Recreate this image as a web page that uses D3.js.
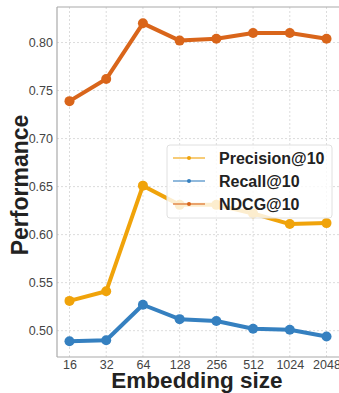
<!DOCTYPE html>
<html lang="en">
<head>
    <meta charset="UTF-8">
    <title>Embedding size</title>
    <script src="https://d3js.org/d3.v7.min.js"></script>
    <style>
        body { margin: 0; background: #fff; }
        text { font-family: "Liberation Sans", Arial, sans-serif; }
    </style>
</head>
<body>
    <svg width="339" height="393" id="mainsvg"></svg>
    <script>
        // data
        const sizes = ['16', '32', '64', '128', '256', '512', '1024', '2048'];
        const precision = [0.531, 0.541, 0.651, 0.631, 0.631, 0.622, 0.611, 0.612];
        const recall = [0.489, 0.490, 0.527, 0.512, 0.510, 0.502, 0.501, 0.494];
        const ndcg = [0.739, 0.762, 0.820, 0.802, 0.804, 0.810, 0.810, 0.804];
        const yTicks = [0.50, 0.55, 0.60, 0.65, 0.70, 0.75, 0.80];

        const series = [
            { name: 'Precision@10', values: precision, color: '#f0a30a' },
            { name: 'Recall@10', values: recall, color: '#3580c0' },
            { name: 'NDCG@10', values: ndcg, color: '#d9651a' }
        ];

        const svg = d3.select('#mainsvg');
        const margin = { top: 7, right: 0, bottom: 36, left: 57 };
        const width = +svg.attr('width');
        const height = +svg.attr('height');
        const innerWidth = width - margin.left - margin.right;
        const innerHeight = height - margin.top - margin.bottom;

        const xScale = d3.scalePoint()
            .domain(sizes)
            .range([0, innerWidth])
            .padding(0.34);

        const yScale = d3.scaleLinear()
            .domain([0.4726, 0.837])
            .range([innerHeight, 0]);

        const g = svg.append('g')
            .attr('transform', `translate(${margin.left},${margin.top})`);

        // grid
        g.append('g').selectAll('line')
            .data(yTicks)
            .join('line')
            .attr('x1', 0).attr('x2', innerWidth)
            .attr('y1', d => yScale(d)).attr('y2', d => yScale(d))
            .attr('stroke', '#dcdcdc').attr('stroke-dasharray', '2,2');
        g.append('g').selectAll('line')
            .data(sizes)
            .join('line')
            .attr('y1', 0).attr('y2', innerHeight)
            .attr('x1', d => xScale(d)).attr('x2', d => xScale(d))
            .attr('stroke', '#dcdcdc').attr('stroke-dasharray', '2,2');

        // axes
        const yAxis = d3.axisLeft(yScale).tickValues(yTicks).tickFormat(d3.format('.2f')).tickSize(0).tickPadding(4);
        const xAxis = d3.axisBottom(xScale).tickSize(0).tickPadding(3);

        const yAxisGroup = g.append('g').call(yAxis);
        yAxisGroup.select('.domain').remove();
        yAxisGroup.selectAll('text').attr('font-size', 12.5).attr('fill', '#444')
            .style('font-family', '"Liberation Sans", Arial, sans-serif');

        const xAxisGroup = g.append('g').call(xAxis)
            .attr('transform', `translate(0,${innerHeight})`);
        xAxisGroup.select('.domain').remove();
        xAxisGroup.selectAll('text').attr('font-size', 12.5).attr('fill', '#444')
            .style('font-family', '"Liberation Sans", Arial, sans-serif');

        // spines
        g.append('line').attr('x1', 0).attr('x2', 0).attr('y1', 0).attr('y2', innerHeight)
            .attr('stroke', '#aaa').attr('stroke-width', 1.2);
        g.append('line').attr('x1', 0).attr('x2', innerWidth).attr('y1', innerHeight).attr('y2', innerHeight)
            .attr('stroke', '#aaa').attr('stroke-width', 1.2);
        g.append('line').attr('x1', 0).attr('x2', innerWidth).attr('y1', 0).attr('y2', 0)
            .attr('stroke', '#aaa').attr('stroke-width', 1.2);

        // lines
        const line = d3.line()
            .x((d, i) => xScale(sizes[i]))
            .y(d => yScale(d));

        series.forEach(s => {
            g.append('path')
                .datum(s.values)
                .attr('d', line)
                .attr('fill', 'none')
                .attr('stroke', s.color)
                .attr('stroke-width', 4)
                .attr('stroke-linejoin', 'round');
            g.append('g').selectAll('circle')
                .data(s.values)
                .join('circle')
                .attr('cx', (d, i) => xScale(sizes[i]))
                .attr('cy', d => yScale(d))
                .attr('r', 5)
                .attr('fill', s.color);
        });

        // legend
        const legend = svg.append('g').attr('transform', 'translate(167,145)');
        legend.append('rect')
            .attr('width', 165).attr('height', 73)
            .attr('rx', 3)
            .attr('fill', '#fff').attr('fill-opacity', 0.8)
            .attr('stroke', '#e0e0e0');
        series.forEach((s, i) => {
            const row = legend.append('g').attr('transform', `translate(0,${13 + i * 23})`);
            row.append('line').attr('x1', 6).attr('x2', 38)
                .attr('stroke', s.color).attr('stroke-width', 2).attr('stroke-opacity', 0.55);
            row.append('circle').attr('cx', 22).attr('r', 2).attr('fill', s.color);
            row.append('text').attr('x', 52).attr('dy', '0.35em')
                .attr('font-size', 16).attr('font-weight', 'bold').attr('fill', '#222')
                .text(s.name);
        });

        // labels
        svg.append('text')
            .attr('x', 197)
            .attr('y', 388)
            .attr('text-anchor', 'middle')
            .attr('font-size', 22.5).attr('font-weight', 'bold').attr('fill', '#222')
            .text('Embedding size');
        svg.append('text')
            .attr('transform', 'translate(28,185) rotate(-90)')
            .attr('text-anchor', 'middle')
            .attr('font-size', 23).attr('font-weight', 'bold').attr('fill', '#222')
            .text('Performance');
    </script>
</body>
</html>
